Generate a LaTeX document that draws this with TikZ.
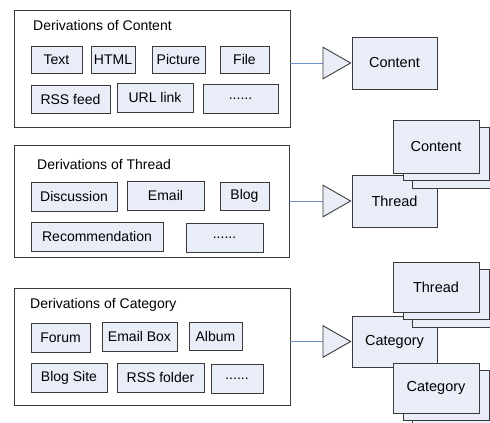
\documentclass[tikz,border=0pt]{standalone}
\usepackage{fontspec}
\setmainfont{Liberation Sans}
\usetikzlibrary{arrows.meta}
\definecolor{boxfill}{HTML}{E8EDF7}
\definecolor{edge}{HTML}{3A3A3A}
\definecolor{link}{HTML}{6E92C8}
\tikzset{
  container/.style={draw=edge, line width=0.9pt, fill=white, inner sep=0pt},
  item/.style={draw=edge, line width=1pt, fill=boxfill, inner sep=0pt,
    font=\fontsize{14}{16}\selectfont},
  entity/.style={draw=edge, line width=1pt, fill=boxfill, inner sep=0pt,
    minimum width=85, font=\fontsize{14.5}{17}\selectfont},
  layer/.style={draw=edge, line width=1pt, fill=boxfill, inner sep=0pt,
    minimum width=86},
  heading/.style={anchor=west, inner sep=0pt, font=\fontsize{14}{16}\selectfont},
  derive/.style={draw=link, line width=0.9pt,
    -{Triangle[length=29pt, width=33pt, fill=boxfill, color=edge, line width=0.9pt]}},
}
\begin{document}
\begin{tikzpicture}[x=1pt, y=-1pt]
\useasboundingbox (0,0) rectangle (490,423);
\clip (0,0) rectangle (490,423);

% ---- group 1: Content ----
\node[container, minimum width=276, minimum height=117] (c1) at (152,68.5) {};
\node[heading] (h1) at (33,25) {Derivations of Content};
\node[item, minimum width=51, minimum height=27] (text)    at (56.5,59.5)  {Text};
\node[item, minimum width=44, minimum height=27] (html)    at (113,59.5)   {HTML};
\node[item, minimum width=53, minimum height=27] (picture) at (178.5,59.5) {Picture};
\node[item, minimum width=49, minimum height=27] (file)    at (244.5,59.5) {File};
\node[item, minimum width=79, minimum height=28] (rss)     at (70.5,99)    {RSS feed};
\node[item, minimum width=76, minimum height=29] (url)     at (155,97.5)   {URL link};
\node[item, minimum width=75, minimum height=29] (more1)   at (240.5,98.5) {......};

% ---- group 2: Thread ----
\node[container, minimum width=275, minimum height=112] (c2) at (151.5,201) {};
\node[heading] (h2) at (37,164) {Derivations of Thread};
\node[item, minimum width=86, minimum height=29] (disc)  at (74,196.5)   {Discussion};
\node[item, minimum width=77, minimum height=29] (email) at (165.5,195.5) {Email};
\node[item, minimum width=49, minimum height=28] (blog)  at (244.5,196)  {Blog};
\node[item, minimum width=132, minimum height=29] (rec)  at (97,236.5)   {Recommendation};
\node[item, minimum width=77, minimum height=29] (more2) at (224.5,237.5) {......};

% ---- group 3: Category ----
\node[container, minimum width=276, minimum height=117] (c3) at (152,346.5) {};
\node[heading] (h3) at (30,305) {Derivations of Category};
\node[item, minimum width=59, minimum height=29] (forum)    at (60.5,337.5)  {Forum};
\node[item, minimum width=75, minimum height=29] (emailbox) at (139.5,336.5) {Email Box};
\node[item, minimum width=53, minimum height=28] (album)    at (215.5,336)   {Album};
\node[item, minimum width=76, minimum height=29] (blogsite) at (69,377.5)    {Blog Site};
\node[item, minimum width=87, minimum height=29] (rssfold)  at (160.5,377.5) {RSS folder};
\node[item, minimum width=52, minimum height=29] (more3)    at (237,378.5)   {......};

% ---- target entities ----
\node[entity, minimum height=52] (content)  at (394.5,63)    {Content};
\node[entity, minimum height=52] (thread)   at (394.5,201)   {Thread};
\node[entity, minimum height=51] (category) at (394.5,341.5) {Category};

% ---- stacked collections ----
% Content collection inside Thread
\node[layer, minimum height=53] (cs3) at (455,161.5) {};
\node[layer, minimum height=53] (cs2) at (446,153.5) {};
\node[entity, minimum width=86, minimum height=53] (cstack) at (436,146.5) {Content};
% Thread collection inside Category
\node[layer, minimum height=50] (ts3) at (455,302) {};
\node[layer, minimum height=50] (ts2) at (446,294) {};
\node[entity, minimum width=86, minimum height=50] (tstack) at (436,287) {Thread};
% Category collection inside Category
\node[layer, minimum height=50] (gs3) at (455,403) {};
\node[layer, minimum height=50] (gs2) at (446,395) {};
\node[entity, minimum width=86, minimum height=50] (gstack) at (436,388) {Category};

% ---- derivation links ----
\draw[derive] (c1.east |- content.west) -- (content.west);
\draw[derive] (c2.east |- thread.west) -- (thread.west);
\draw[derive] (c3.east |- category.west) -- (category.west);
\end{tikzpicture}
\end{document}
